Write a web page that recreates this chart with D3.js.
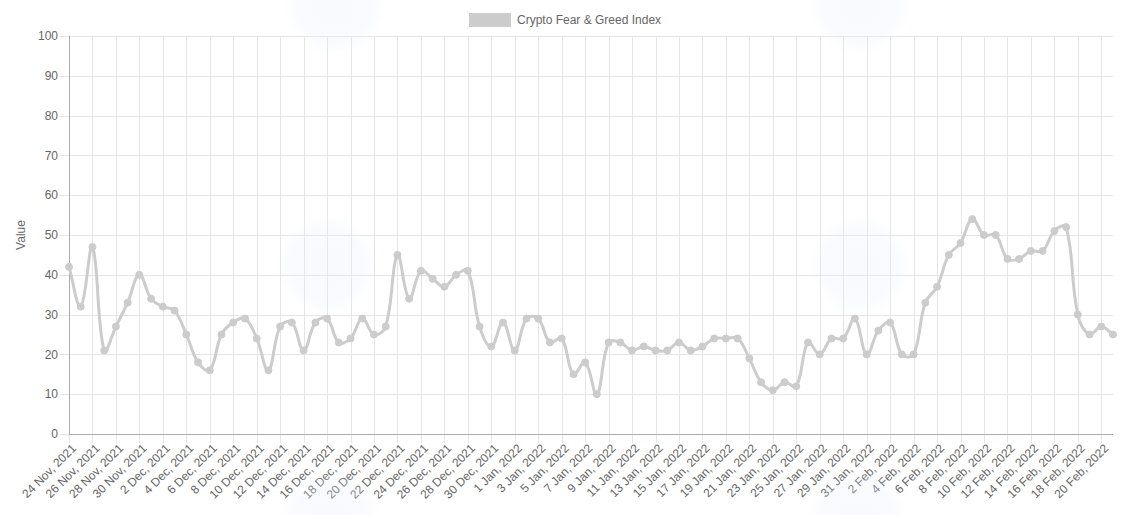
<!DOCTYPE html>
<html>
<head>
<meta charset="utf-8">
<script src="https://cdn.jsdelivr.net/npm/d3@7"></script>
<style>
  html, body { margin: 0; padding: 0; background: #fff; }
  svg { display: block; font-family: "Liberation Sans", Arial, Helvetica, sans-serif; }
</style>
</head>
<body>
<svg id="chart" width="1133" height="515"></svg>
<script>
// ---- data ----
const seriesName = "Crypto Fear & Greed Index";
const startDate = new Date(2021, 10, 24);
const endDate = new Date(2022, 1, 22); // exclusive
const categories = d3.timeDay.range(startDate, endDate); // 24 Nov 2021 .. 21 Feb 2022
const values = [
  42, 32, 47, 21, 27, 33, 40, 34, 32, 31,
  25, 18, 16, 25, 28, 29, 24, 16, 27, 28,
  21, 28, 29, 23, 24, 29, 25, 27, 45, 34,
  41, 39, 37, 40, 41, 27, 22, 28, 21, 29,
  29, 23, 24, 15, 18, 10, 23, 23, 21, 22,
  21, 21, 23, 21, 22, 24, 24, 24, 19, 13,
  11, 13, 12, 23, 20, 24, 24, 29, 20, 26,
  28, 20, 20, 33, 37, 45, 48, 54, 50, 50,
  44, 44, 46, 46, 51, 52, 30, 25, 27, 25
];
const yTicks = [0, 10, 20, 30, 40, 50, 60, 70, 80, 90, 100];
const yTitle = "Value";
const tickLabelFormat = d3.timeFormat("%-d %b, %Y");

// ---- layout ----
const W = 1133, H = 515;
const pL = 69, pR = 1113, pT = 36, pB = 434;
const lineColor = "#cccccc";
const textColor = "#666666";
const gridColor = "#e5e5e5";
const axisColor = "#aaaaaa";

const svg = d3.select("#chart");

const x = d3.scalePoint().domain(d3.range(categories.length)).range([pL, pR]);
const y = d3.scaleLinear().domain([0, 100]).range([pB, pT]);

// ---- grid ----
const xTickIdx = d3.range(0, categories.length, 2);
const grid = svg.append("g");
grid.selectAll("line.h").data(yTicks).join("line")
  .attr("x1", pL - 9).attr("x2", pR)
  .attr("y1", d => Math.round(y(d)) + 0.5).attr("y2", d => Math.round(y(d)) + 0.5)
  .attr("stroke", gridColor).attr("stroke-width", 1);
grid.selectAll("line.v").data(xTickIdx).join("line")
  .attr("x1", d => Math.round(x(d)) + 0.5).attr("x2", d => Math.round(x(d)) + 0.5)
  .attr("y1", pT).attr("y2", pB + 9)
  .attr("stroke", gridColor).attr("stroke-width", 1);

// axis lines
svg.append("line").attr("x1", pL + 0.5).attr("x2", pL + 0.5).attr("y1", pT).attr("y2", pB)
  .attr("stroke", axisColor).attr("stroke-width", 1);
svg.append("line").attr("x1", pL).attr("x2", pR).attr("y1", pB + 0.5).attr("y2", pB + 0.5)
  .attr("stroke", axisColor).attr("stroke-width", 1);

// y labels
svg.append("g").selectAll("text").data(yTicks).join("text")
  .attr("x", pL - 11).attr("y", d => y(d))
  .attr("dy", "0.35em").attr("text-anchor", "end")
  .attr("font-size", 12).attr("fill", textColor)
  .text(d => d);

// y title
svg.append("text")
  .attr("transform", `translate(25,${(pT + pB) / 2}) rotate(-90)`)
  .attr("text-anchor", "middle").attr("font-size", 12).attr("fill", textColor)
  .text(yTitle);

// x labels
svg.append("g").selectAll("text").data(xTickIdx).join("text")
  .attr("transform", d => `translate(${x(d) + 5},${pB + 12}) rotate(-45)`)
  .attr("text-anchor", "end").attr("dy", "0.35em")
  .attr("font-size", 12).attr("fill", textColor)
  .text(d => tickLabelFormat(categories[d]));

// ---- line (Chart.js style bezier, tension 0.4) ----
const pts = values.map((v, i) => ({ x: x(i), y: y(v) }));
const tension = 0.4;
const capPt = (p) => ({ x: Math.max(pL, Math.min(pR, p.x)), y: Math.max(pT, Math.min(pB, p.y)) });
const ctrl = pts.map((cur, i) => {
  const prev = pts[i - 1] || cur, next = pts[i + 1] || cur;
  const d01 = Math.hypot(cur.x - prev.x, cur.y - prev.y);
  const d12 = Math.hypot(next.x - cur.x, next.y - cur.y);
  let s01 = d01 / (d01 + d12), s12 = d12 / (d01 + d12);
  if (!isFinite(s01)) s01 = 0;
  if (!isFinite(s12)) s12 = 0;
  const fa = tension * s01, fb = tension * s12;
  return {
    before: capPt({ x: cur.x - fa * (next.x - prev.x), y: cur.y - fa * (next.y - prev.y) }),
    after: capPt({ x: cur.x + fb * (next.x - prev.x), y: cur.y + fb * (next.y - prev.y) })
  };
});
const path = d3.path();
path.moveTo(pts[0].x, pts[0].y);
for (let i = 1; i < pts.length; i++) {
  path.bezierCurveTo(ctrl[i - 1].after.x, ctrl[i - 1].after.y, ctrl[i].before.x, ctrl[i].before.y, pts[i].x, pts[i].y);
}
svg.append("path").attr("d", path.toString())
  .attr("fill", "none").attr("stroke", lineColor).attr("stroke-width", 3)
  .attr("stroke-linejoin", "round");

svg.append("g").selectAll("circle").data(values).join("circle")
  .attr("cx", (d, i) => x(i)).attr("cy", d => y(d)).attr("r", 3.5)
  .attr("fill", lineColor).attr("stroke", lineColor).attr("stroke-width", 1);

// ---- legend ----
const legend = svg.append("g");
legend.append("rect").attr("x", 469).attr("y", 13).attr("width", 42).attr("height", 14)
  .attr("fill", lineColor);
legend.append("text").attr("x", 517).attr("y", 20).attr("dy", "0.35em")
  .attr("font-size", 12).attr("fill", textColor).text(seriesName);

// ---- faint watermark ----
const defs = svg.append("defs");
const rg = defs.append("radialGradient").attr("id", "wm");
rg.append("stop").attr("offset", "0%").attr("stop-color", "#e6eefa").attr("stop-opacity", 0.3);
rg.append("stop").attr("offset", "75%").attr("stop-color", "#e6eefa").attr("stop-opacity", 0.25);
rg.append("stop").attr("offset", "100%").attr("stop-color", "#e6eefa").attr("stop-opacity", 0);
const marks = [[327, 265], [860, 265], [335, 5], [860, 5], [330, 520], [858, 520]];
svg.append("g").selectAll("circle").data(marks).join("circle")
  .attr("cx", d => d[0]).attr("cy", d => d[1]).attr("r", 50)
  .attr("fill", "url(#wm)");
</script>
</body>
</html>
